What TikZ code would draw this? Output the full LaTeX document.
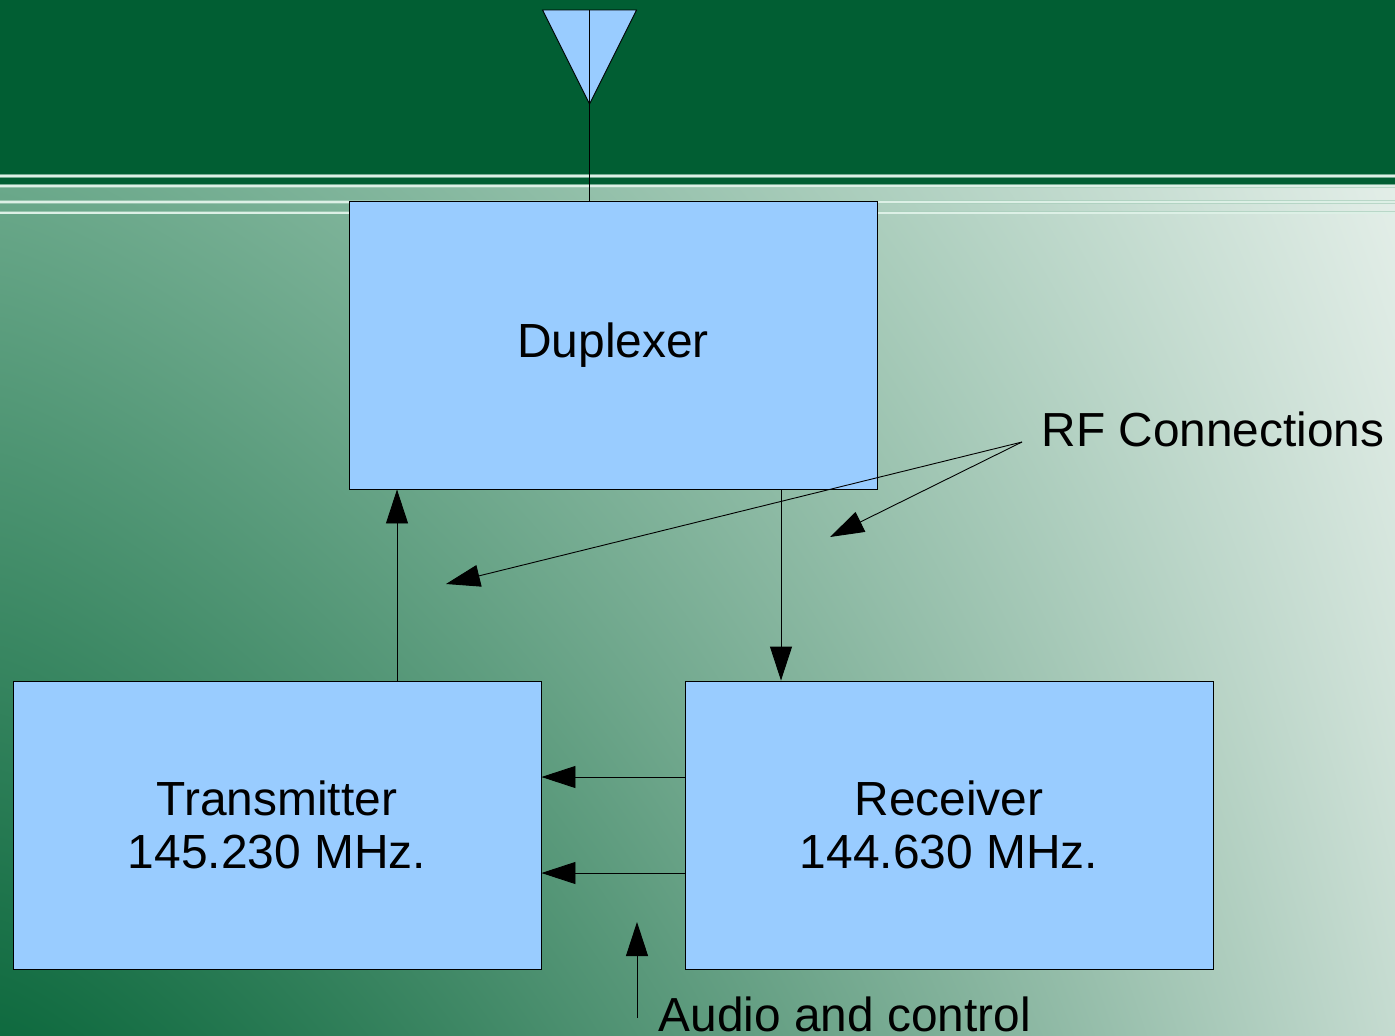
\documentclass[tikz,border=0pt]{standalone}
\usepackage{fontspec}
\setmainfont{Liberation Sans}
\usetikzlibrary{arrows.meta}
\pgfdeclarefunctionalshading{bgfunc}{\pgfpoint{0bp}{0bp}}{\pgfpoint{100bp}{100bp}}{}{
 25 sub 50 div abs exch 25 sub 50 div abs 1.25 exp exch
 1 index 0.7137 mul 0.0588 add 1 index 0.3569 mul add 2 index 2 index mul -0.2392 mul add 3 1 roll
 1 index 0.4431 mul 0.4157 add 1 index 0.2431 mul add 2 index 2 index mul -0.1686 mul add 3 1 roll
 1 index 0.5686 mul 0.2471 add 1 index 0.2941 mul add 2 index 2 index mul -0.2000 mul add 3 1 roll
 pop pop
}
\definecolor{boxblue}{HTML}{99CCFF}
\definecolor{topgreen}{HTML}{015E33}
\definecolor{stripe}{HTML}{DDF0E6}
\definecolor{stripesoft}{HTML}{A9CFBC}
\tikzset{
  block/.style={draw=black,fill=boxblue,line width=0.9pt,minimum width=528pt,minimum height=288pt,inner sep=0pt,align=center,font=\fontsize{47.9}{53}\selectfont},
  label text/.style={inner sep=0pt,anchor=base west,font=\fontsize{47.8}{53}\selectfont},
  conn/.style={draw=black,line width=0.9pt},
  arrowed/.style={conn,-{Triangle[length=34pt,width=22pt]}},
  stripeglow/.style={draw=stripesoft,opacity=0.7,line width=3.8pt},
  stripeline/.style={draw=stripe,line width=2pt}
}
\begin{document}
\begin{tikzpicture}[x=1pt,y=-1pt]
\useasboundingbox (0,0) rectangle (1395,1036);
% background
\fill[topgreen] (0,0) rectangle (1395,186);
\shade[shading=bgfunc] (0,186) rectangle (1395,1036);
\foreach \yy in {175.7,186,202,212.5}{
  \draw[stripeglow] (0,\yy) -- (1395,\yy);
  \draw[stripeline] (0,\yy) -- (1395,\yy);
}
% blocks
\node[block] (dup) at (613,345) {\raisebox{-3.5pt}{Duplexer}};
\node[block] (tran) at (277,825) {Transmitter\\145.230 MHz.};
\node[block] (rec) at (949,825) {Receiver\\144.630 MHz.};
% antenna
\coordinate (antL) at (542.5,10);
\coordinate (antR) at (636.5,10);
\coordinate (antTip) at (589.5,104);
\coordinate (antTop) at (589.5,10);
\draw[conn,fill=boxblue,line join=miter] (antL) -- (antR) -- (antTip) -- cycle;
\draw[conn] (antTop) -- ([xshift=-23.5pt]dup.north);
% labels
\node[label text] (rf) at (1041.5,446) {RF Connections};
\node[label text] (audio) at (658.5,1031) {Audio and control};
% connectors
\draw[arrowed] ([xshift=120pt]tran.north) -- ([xshift=-216pt]dup.south);
\draw[arrowed] ([xshift=168pt]dup.south) -- ([xshift=-168pt]rec.north);
\draw[arrowed] ([yshift=48pt]rec.west) -- ([yshift=48pt]tran.east);
\draw[arrowed] ([yshift=-48pt]rec.west) -- ([yshift=-48pt]tran.east);
\coordinate (rfSrc) at (1022,442);
\coordinate (rfA) at (446,584);
\coordinate (rfB) at (830,537);
\draw[arrowed] (rfSrc) -- (rfA);
\draw[arrowed] (rfSrc) -- (rfB);
\coordinate (audSrc) at (637,1018);
\coordinate (audEnd) at (637,922);
\draw[arrowed] (audSrc) -- (audEnd);
\end{tikzpicture}
\end{document}
